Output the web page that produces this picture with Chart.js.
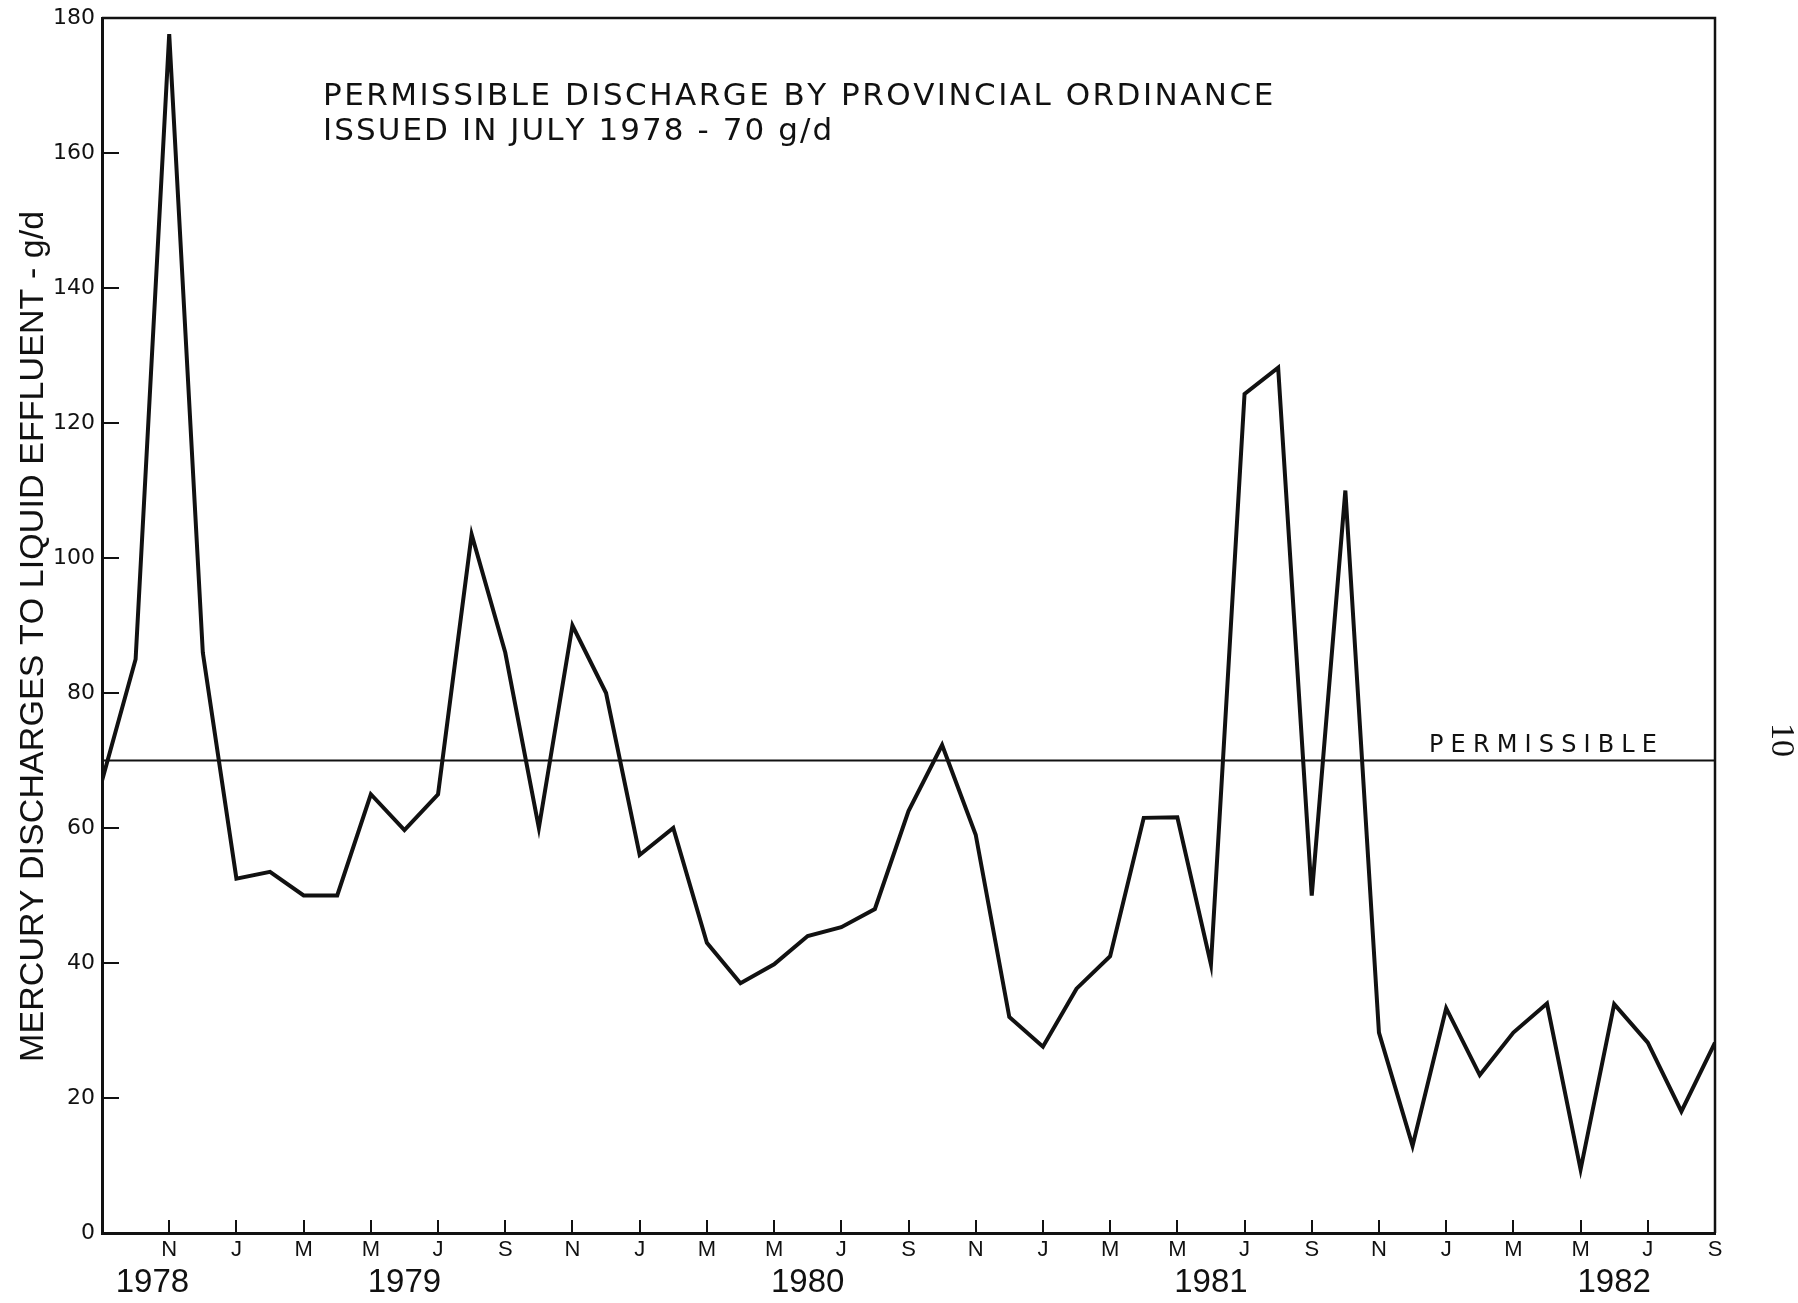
<!DOCTYPE html>
<html>
<head>
<meta charset="utf-8">
<title>Mercury discharges to liquid effluent</title>
<script src="https://cdn.jsdelivr.net/npm/chart.js@4.4.1/dist/chart.umd.min.js"></script>
<style>
  html, body { margin: 0; padding: 0; background: #ffffff; }
  canvas { display: block; }
</style>
</head>
<body>
<canvas id="chart" width="1798" height="1303"></canvas>
<script>
// Monthly sampling periods, September 1978 to September 1982
const months = [
  'Sep 1978', 'Oct 1978', 'Nov 1978', 'Dec 1978',
  'Jan 1979', 'Feb 1979', 'Mar 1979', 'Apr 1979', 'May 1979', 'Jun 1979',
  'Jul 1979', 'Aug 1979', 'Sep 1979', 'Oct 1979', 'Nov 1979', 'Dec 1979',
  'Jan 1980', 'Feb 1980', 'Mar 1980', 'Apr 1980', 'May 1980', 'Jun 1980',
  'Jul 1980', 'Aug 1980', 'Sep 1980', 'Oct 1980', 'Nov 1980', 'Dec 1980',
  'Jan 1981', 'Feb 1981', 'Mar 1981', 'Apr 1981', 'May 1981', 'Jun 1981',
  'Jul 1981', 'Aug 1981', 'Sep 1981', 'Oct 1981', 'Nov 1981', 'Dec 1981',
  'Jan 1982', 'Feb 1982', 'Mar 1982', 'Apr 1982', 'May 1982', 'Jun 1982',
  'Jul 1982', 'Aug 1982', 'Sep 1982'
];

// Mercury discharged to liquid effluent, g/d (monthly average)
const discharge = [
  67, 85, 177.6, 86,
  52.5, 53.5, 50, 50, 65, 59.7,
  65, 103.5, 86, 60, 90, 80,
  56, 60, 43, 37, 39.8, 44,
  45.3, 48, 62.5, 72.3, 59, 32,
  27.6, 36.2, 41, 61.5, 61.6, 39.8,
  124.3, 128.2, 50, 110, 29.7, 12.9,
  33.3, 23.4, 29.7, 34, 9.4, 33.9,
  28.2, 18, 28.2
];

// Provincial ordinance limit, g/d
const permissibleLimit = 70;

// Axis labelling
const monthTickLabels = [
  'N', 'J', 'M', 'M', 'J', 'S',
  'N', 'J', 'M', 'M', 'J', 'S',
  'N', 'J', 'M', 'M', 'J', 'S',
  'N', 'J', 'M', 'M', 'J', 'S'
];
const yearTickValues = [1.5, 9, 21, 33, 45];
const yearTickLabels = ['1978', '1979', '1980', '1981', '1982'];

const headlineLines = [
  'PERMISSIBLE DISCHARGE BY PROVINCIAL ORDINANCE',
  'ISSUED IN JULY 1978 - 70 g/d'
];
const permissibleLabel = 'PERMISSIBLE';
const yAxisTitle = 'MERCURY DISCHARGES TO LIQUID EFFLUENT - g/d';
const pageNumber = '10';

const INK = '#111111';

// Draw a string letter by letter so that it spans a given width
function drawSpread(ctx, text, x, y, width) {
  const chars = Array.from(text);
  const natural = ctx.measureText(text).width;
  const gap = chars.length > 1 ? (width - natural) / (chars.length - 1) : 0;
  let cx = x;
  for (const ch of chars) {
    ctx.fillText(ch, cx, y);
    cx += ctx.measureText(ch).width + gap;
  }
}

const paperBackground = {
  id: 'paperBackground',
  beforeDraw(chart) {
    const ctx = chart.ctx;
    ctx.save();
    ctx.fillStyle = '#ffffff';
    ctx.fillRect(0, 0, chart.width, chart.height);
    ctx.restore();
  }
};

const frameAndNotes = {
  id: 'frameAndNotes',
  afterDraw(chart) {
    const ctx = chart.ctx;
    const area = chart.chartArea;
    const yScale = chart.scales.y;

    ctx.save();
    // top and right edges of the plotting frame
    ctx.strokeStyle = INK;
    ctx.lineWidth = 2.5;
    ctx.beginPath();
    ctx.moveTo(area.left, area.top);
    ctx.lineTo(area.right, area.top);
    ctx.lineTo(area.right, area.bottom);
    ctx.stroke();

    ctx.fillStyle = INK;
    ctx.textAlign = 'left';
    ctx.textBaseline = 'alphabetic';

    // ordinance note
    ctx.font = '31px "DejaVu Sans", sans-serif';
    drawSpread(ctx, headlineLines[0], 323, 105, 948);
    drawSpread(ctx, headlineLines[1], 323, 140, 505);

    // label sitting on the limit line
    ctx.font = '24px "DejaVu Sans", sans-serif';
    const limitY = yScale.getPixelForValue(permissibleLimit);
    drawSpread(ctx, permissibleLabel, 1429, limitY - 9, 228);

    // vertical axis title
    ctx.save();
    ctx.translate(34, 637);
    ctx.rotate(-Math.PI / 2);
    ctx.font = '34px "Liberation Sans", Arial, sans-serif';
    ctx.textBaseline = 'middle';
    drawSpread(ctx, yAxisTitle, -425, 0, 850);
    ctx.restore();

    // page number in the margin
    ctx.save();
    ctx.translate(1781, 740);
    ctx.rotate(Math.PI / 2);
    ctx.font = '34px "Liberation Serif", "Times New Roman", serif';
    ctx.textAlign = 'center';
    ctx.textBaseline = 'middle';
    ctx.fillText(pageNumber, 0, 0);
    ctx.restore();

    ctx.restore();
  }
};

new Chart(document.getElementById('chart'), {
  type: 'line',
  data: {
    datasets: [
      {
        label: 'Mercury discharge',
        data: months.map((m, i) => ({ x: i, y: discharge[i] })),
        borderColor: INK,
        borderWidth: 4,
        pointRadius: 0,
        tension: 0,
        fill: false,
        borderJoinStyle: 'miter'
      },
      {
        label: 'Permissible',
        data: [
          { x: 0, y: permissibleLimit },
          { x: months.length - 1, y: permissibleLimit }
        ],
        borderColor: INK,
        borderWidth: 1.8,
        pointRadius: 0,
        tension: 0,
        fill: false
      }
    ]
  },
  options: {
    responsive: false,
    animation: false,
    devicePixelRatio: 1,
    layout: { padding: { top: 18, right: 83, left: 0, bottom: 0 } },
    plugins: {
      legend: { display: false },
      tooltip: { enabled: false }
    },
    scales: {
      x: {
        type: 'linear',
        position: 'bottom',
        weight: 0,
        min: 0,
        max: months.length - 1,
        afterFit(scale) {
          scale.height = 30;
          scale.paddingLeft = 0;
          scale.paddingRight = 0;
        },
        ticks: {
          stepSize: 2,
          autoSkip: false,
          maxRotation: 0,
          padding: 17,
          color: INK,
          font: { family: '"Liberation Sans", Arial, sans-serif', size: 22 },
          callback: (value) => (value > 0 ? monthTickLabels[value / 2 - 1] : '')
        },
        grid: {
          drawOnChartArea: false,
          drawTicks: true,
          tickLength: -13,
          color: INK,
          lineWidth: 2
        },
        border: { display: true, color: INK, width: 3 }
      },
      years: {
        type: 'linear',
        position: 'bottom',
        weight: 1,
        min: 0,
        max: months.length - 1,
        afterFit(scale) {
          scale.height = 40;
          scale.paddingLeft = 0;
          scale.paddingRight = 0;
        },
        afterBuildTicks(scale) {
          scale.ticks = yearTickValues.map((v) => ({ value: v }));
        },
        ticks: {
          autoSkip: false,
          maxRotation: 0,
          padding: 0,
          color: INK,
          font: { family: '"Liberation Sans", Arial, sans-serif', size: 33 },
          callback: (value, index) => yearTickLabels[index]
        },
        grid: { display: false, drawTicks: false },
        border: { display: false }
      },
      y: {
        min: 0,
        max: 180,
        afterFit(scale) {
          scale.width = 102;
          scale.paddingTop = 0;
          scale.paddingBottom = 0;
        },
        ticks: {
          stepSize: 20,
          padding: 24,
          color: INK,
          font: { family: '"DejaVu Sans", sans-serif', size: 22 }
        },
        grid: {
          drawOnChartArea: false,
          drawTicks: true,
          tickLength: -17,
          color: INK,
          lineWidth: 2
        },
        border: { display: true, color: INK, width: 3 }
      }
    }
  },
  plugins: [paperBackground, frameAndNotes]
});
</script>
</body>
</html>
